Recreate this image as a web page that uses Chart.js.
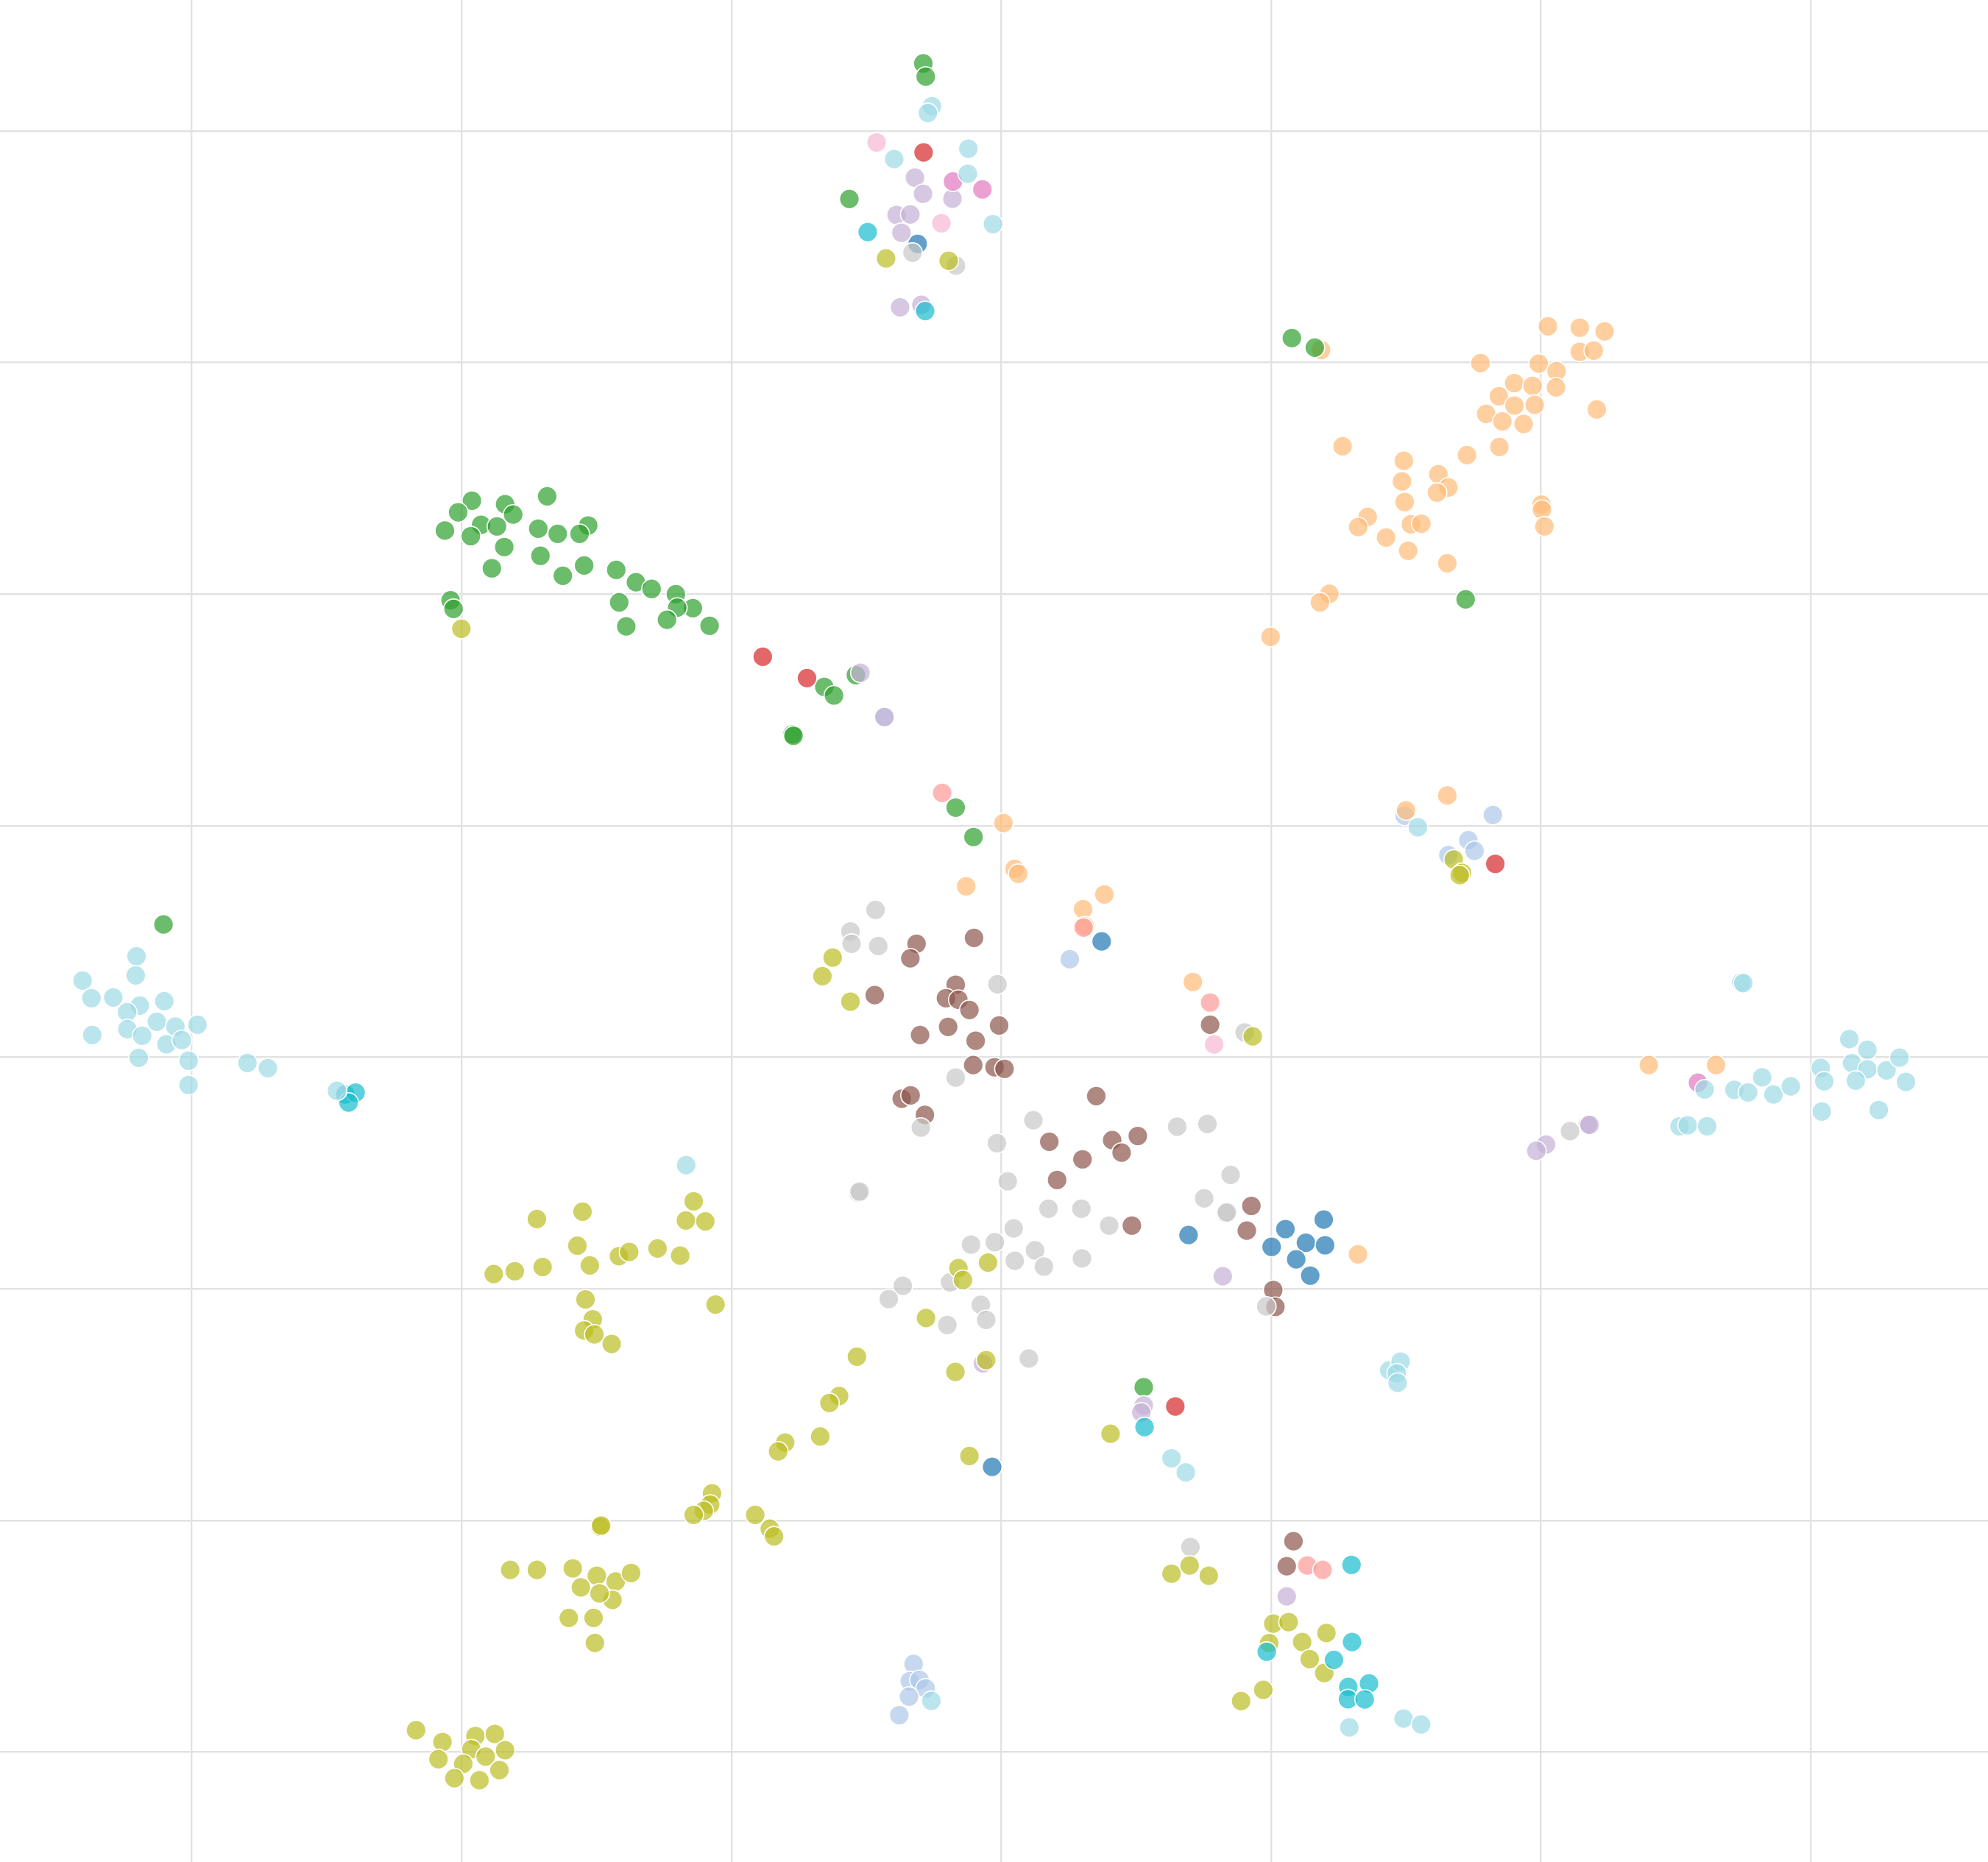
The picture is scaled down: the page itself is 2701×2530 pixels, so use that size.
<!DOCTYPE html>
<html>
<head>
<meta charset="utf-8">
<script src="https://cdn.jsdelivr.net/npm/chart.js@4.4.1/dist/chart.umd.min.js"></script>
<style>
html,body{margin:0;padding:0;background:#ffffff;}
#wrap{width:2701px;height:2530px;position:relative;}
</style>
</head>
<body>
<div id="wrap"><canvas id="c"></canvas></div>
<script>
// ---- axis ticks / ranges (data units) ----
const xTicks = [-30, -20, -10, 0, 10, 20, 30];
const yTicks = [-30, -20, -10, 0, 10, 20, 30, 40];
const xRange = [-37.11, 36.57];
const yRange = [-34.75, 45.65];

// ---- series values: [x, y] pairs ----
const blue = [[-3.10,35.12],[3.72,5.00],[6.94,-7.68],[10.53,-7.42],[11.95,-7.01],[10.02,-8.19],[11.29,-8.01],[12.00,-8.12],[10.93,-8.73],[11.45,-9.43],[-0.34,-17.69]];

const lightBlue = [[-4.33,14.69],[2.54,4.23],[14.95,10.43],[18.22,10.46],[17.31,9.37],[17.54,8.91],[16.57,8.73],[-3.25,-26.20],[-3.39,-26.94],[-3.03,-26.89],[-2.80,-27.25],[-3.42,-27.61],[-3.78,-28.41]];

const lightOrange = [[11.85,30.54],[20.26,31.56],[21.44,31.50],[22.36,31.34],[21.44,30.46],[21.96,30.51],[17.76,29.97],[19.92,29.95],[20.58,29.62],[19.01,29.11],[19.69,28.99],[20.56,28.92],[18.44,28.54],[19.02,28.14],[19.77,28.17],[17.97,27.78],[18.57,27.45],[19.36,27.34],[22.07,27.97],[12.65,26.38],[18.46,26.35],[17.26,26.00],[14.92,25.75],[14.85,24.86],[16.20,25.17],[16.57,24.60],[16.15,24.38],[14.95,23.97],[20.02,23.86],[20.04,23.64],[20.13,22.92],[13.58,23.33],[13.23,22.89],[15.18,23.01],[15.57,23.04],[14.26,22.44],[15.08,21.87],[16.53,21.33],[12.16,20.01],[11.81,19.64],[9.98,18.15],
[15.00,10.66],[16.53,11.30],[0.08,10.11],[0.49,8.13],[0.63,7.92],[-1.30,7.38],[3.82,7.03],[3.03,6.39],[3.10,5.66],[7.10,3.25],[13.22,-8.51],[24.00,-0.34],[26.49,-0.34]];

const green = [[-2.89,42.91],[-2.80,42.34],[-5.63,37.06],
[-19.62,24.03],[-20.13,23.53],[-20.62,22.74],[-18.39,23.88],[-18.09,23.43],[-19.28,22.99],[-18.69,22.92],[-19.66,22.50],[-16.83,24.22],[-17.16,22.82],[-16.44,22.60],[-15.31,22.96],[-15.63,22.60],[-18.42,22.03],[-18.88,21.11],[-17.08,21.65],[-16.25,20.79],[-15.46,21.23],[-14.27,21.04],[-13.54,20.51],[-12.96,20.22],[-12.06,19.99],[-14.16,19.64],[-11.43,19.39],[-12.01,19.41],[-12.39,18.89],[-13.90,18.60],[-10.81,18.63],[-20.41,19.73],[-20.30,19.36],
[-6.56,15.99],[-6.20,15.62],[-5.39,16.50],[-7.74,13.94],[-7.70,13.88],
[10.77,31.05],[11.62,30.64],[17.21,19.77],[-31.05,5.73],[-1.69,10.78],[-1.03,9.51],[5.28,-14.25]];

const red = [[-2.88,39.07],[-8.84,17.29],[-7.20,16.37],[18.31,8.35],[6.45,-15.08]];

const lightRed = [[-2.19,11.41],[3.05,5.60],[7.74,2.36],[11.34,-21.95],[11.91,-22.14]];

const lightPurple = [[-3.20,37.98],[-2.90,37.28],[-1.81,37.07],[-3.88,36.37],[-3.37,36.39],[-3.70,35.60],[-3.75,32.38],[-2.96,32.49],[-5.22,16.60],[-4.33,14.69],[20.19,-3.77],[19.83,-4.04],[21.73,-2.92],[21.80,-2.92],[8.21,-9.46],[-0.68,-13.22],[5.28,-15.04],[5.19,-15.34],[10.58,-23.28]];

const brown = [[-4.69,2.68],[-3.14,4.90],[-3.37,4.27],[-1.01,5.15],[-1.69,3.13],[-2.05,2.55],[-1.59,2.48],[-1.18,2.04],[-1.97,1.31],[-3.01,0.96],[-0.08,1.37],[-0.95,0.71],[-1.04,-0.34],[-0.25,-0.43],[0.12,-0.50],[-3.69,-1.79],[-3.36,-1.65],[-2.83,-2.49],[3.52,-1.68],[7.74,1.40],
[1.78,-3.65],[4.11,-3.58],[5.06,-3.40],[4.46,-4.12],[3.01,-4.41],[2.07,-5.30],[9.27,-6.42],[9.10,-7.49],[4.84,-7.27],[10.08,-10.05],[10.16,-10.78],[10.83,-20.90],[10.58,-21.98]];

const pink = [[-1.79,37.81],[-0.70,37.47],[25.82,-1.10]];

const lightPink = [[-4.62,39.50],[-2.22,36.01],[7.89,0.55]];

const lightGray = [[-3.29,34.74],[-1.68,34.18],[-4.66,6.36],[-5.59,5.43],[-5.55,4.90],[-4.56,4.80],[-0.14,3.15],[-1.69,-0.88],[-2.98,-3.04],[1.19,-2.72],[6.52,-3.00],[7.64,-2.88],[9.02,1.07],
[-0.16,-3.71],[0.24,-5.36],[-5.30,-5.85],[-5.25,-5.80],[8.50,-5.08],[7.52,-6.10],[8.32,-6.74],[8.36,-6.70],[1.75,-6.54],[2.97,-6.54],[4.00,-7.27],[9.82,-10.76],[0.46,-7.39],[-0.24,-7.99],[-1.12,-8.09],[1.25,-8.34],[0.50,-8.79],[1.58,-9.04],[2.99,-8.69],[-1.90,-9.72],[-3.65,-9.87],[-4.17,-10.44],[-0.76,-10.69],[-0.56,-11.34],[-2.00,-11.56],[1.02,-13.01],[21.08,-3.19],[7.01,-21.15]];

const olive = [[-4.27,34.49],[-1.95,34.39],[-20.01,18.50],[-6.25,4.30],[-6.63,3.50],[-5.59,2.40],[9.32,0.90],[16.77,8.54],[17.08,7.96],[16.99,7.86],
[-0.49,-8.87],[-1.59,-9.11],[-1.42,-9.62],[-2.79,-11.26],[-5.35,-12.93],[-1.70,-13.59],[-0.56,-13.08],[-6.01,-14.63],[-6.37,-14.93],[-6.71,-16.38],[-1.18,-17.22],[4.05,-16.26],
[-11.40,-6.22],[-11.69,-7.05],[-10.97,-7.09],[-17.21,-6.99],[-15.52,-6.67],[-15.71,-8.14],[-18.81,-9.36],[-18.03,-9.24],[-17.00,-9.06],[-15.25,-8.99],[-14.17,-8.59],[-13.79,-8.41],[-12.74,-8.26],[-11.90,-8.57],[-15.41,-10.46],[-15.14,-11.32],[-15.46,-11.80],[-15.08,-11.97],[-14.44,-12.38],[-10.59,-10.68],[-8.01,-16.64],[-8.27,-17.02],[-10.72,-18.83],[-10.79,-19.32],[-11.03,-19.59],[-11.40,-19.76],[-9.12,-19.76],[-8.58,-20.36],[-8.42,-20.69],[-14.86,-20.28],[-14.83,-20.22],
[-18.20,-22.14],[-17.21,-22.14],[-15.88,-22.07],[-14.99,-22.39],[-15.58,-22.89],[-14.29,-22.64],[-13.72,-22.27],[-14.41,-23.43],[-14.89,-23.15],[-16.03,-24.21],[-15.11,-24.21],[-15.06,-25.29],[-21.69,-29.06],[-20.71,-29.57],[-20.86,-30.31],[-19.49,-29.31],[-18.77,-29.22],[-19.64,-29.88],[-18.39,-29.92],[-19.11,-30.20],[-19.94,-30.51],[-18.60,-30.78],[-20.27,-31.13],[-19.34,-31.22],
[6.31,-22.30],[6.98,-21.95],[7.69,-22.39],[10.08,-24.46],[10.65,-24.39],[9.93,-25.30],[11.15,-25.25],[12.05,-24.86],[11.43,-25.99],[11.97,-26.59],[9.71,-27.32],[8.89,-27.80]];

const cyan = [[-4.95,35.63],[-2.82,32.22],[-24.31,-1.61],[-23.93,-1.53],[-24.19,-1.96],[5.31,-15.97],[12.98,-21.92],[9.84,-25.67],[13.00,-25.25],[12.33,-26.02],[12.86,-27.19],[13.63,-27.04],[12.85,-27.72],[13.47,-27.73]];

const lightCyan = [[-2.57,41.06],[-2.72,40.77],[-3.97,38.78],[-1.22,39.23],[-1.24,38.15],[-0.31,35.97],
[-32.05,4.36],[-32.08,3.53],[-34.05,3.31],[-33.72,2.55],[-32.91,2.58],[-31.93,2.23],[-32.40,1.94],[-31.02,2.42],[-31.30,1.53],[-30.61,1.32],[-29.79,1.40],[-32.39,1.21],[-31.84,0.93],[-30.94,0.56],[-30.37,0.74],[-33.69,0.96],[-31.97,-0.03],[-30.12,-0.15],[-30.12,-1.20],[-27.94,-0.25],[-27.18,-0.47],[-24.62,-1.45],
[27.42,3.23],[27.50,3.20],[26.07,-1.39],[27.17,-1.41],[27.68,-1.52],[28.20,-0.87],[28.62,-1.61],[29.26,-1.26],[30.37,-0.46],[30.50,-1.04],[31.43,0.78],[32.10,0.32],[31.53,-0.26],[32.10,-0.52],[32.81,-0.57],[33.29,-0.02],[31.67,-1.01],[33.53,-1.07],[30.41,-2.35],[32.52,-2.28],[25.14,-2.98],[25.44,-2.94],[26.16,-2.98],
[15.44,9.93],[-11.68,-4.66],[6.31,-17.32],[6.84,-17.93],[14.38,-13.52],[14.80,-13.14],[14.66,-13.65],[14.69,-14.06],[12.90,-28.94],[14.91,-28.56],[15.56,-28.81],[-2.59,-27.79]];

// ---- categories, their colours and stacking rank ----
const categories = ['blue','lightBlue','lightOrange','green','red','lightRed','lightPurple','brown','pink','lightPink','lightGray','olive','cyan','lightCyan'];
const seriesValues = [blue, lightBlue, lightOrange, green, red, lightRed, lightPurple, brown, pink, lightPink, lightGray, olive, cyan, lightCyan];
const seriesColors = ['#1f77b4','#aec7e8','#ffbb78','#2ca02c','#d62728','#ff9896','#c5b0d5','#8c564b','#e377c2','#f7b6d2','#c7c7c7','#bcbd22','#17becf','#9edae5'];
const paletteIndex = [0,1,3,4,6,7,9,10,12,13,15,16,18,19];

function rgba(hex, a) {
  const n = parseInt(hex.slice(1), 16);
  return 'rgba(' + ((n >> 16) & 255) + ',' + ((n >> 8) & 255) + ',' + (n & 255) + ',' + a + ')';
}

const datasets = categories.map((name, i) => ({
  label: name,
  data: seriesValues[i].map(p => ({x: p[0], y: p[1]})),
  backgroundColor: rgba(seriesColors[i], 0.7),
  borderColor: '#ffffff',
  borderWidth: 1.6,
  pointRadius: 13.4,
  pointHoverRadius: 13.4,
  order: 20 - paletteIndex[i]
}));

function fixedTicks(values) {
  return function(scale) { scale.ticks = values.map(v => ({value: v})); };
}

new Chart(document.getElementById('c'), {
  type: 'scatter',
  data: {datasets},
  options: {
    responsive: true,
    maintainAspectRatio: false,
    animation: false,
    events: [],
    layout: {padding: 0, autoPadding: false},
    plugins: {legend: {display: false}, tooltip: {enabled: false}, title: {display: false}},
    scales: {
      x: {
        type: 'linear', min: xRange[0], max: xRange[1],
        afterBuildTicks: fixedTicks(xTicks),
        ticks: {display: false},
        border: {display: false},
        grid: {color: '#e2e2e2', lineWidth: 2.4, drawTicks: false}
      },
      y: {
        type: 'linear', min: yRange[0], max: yRange[1],
        afterBuildTicks: fixedTicks(yTicks),
        ticks: {display: false},
        border: {display: false},
        grid: {color: '#e2e2e2', lineWidth: 2.4, drawTicks: false}
      }
    }
  }
});
</script>
</body>
</html>
